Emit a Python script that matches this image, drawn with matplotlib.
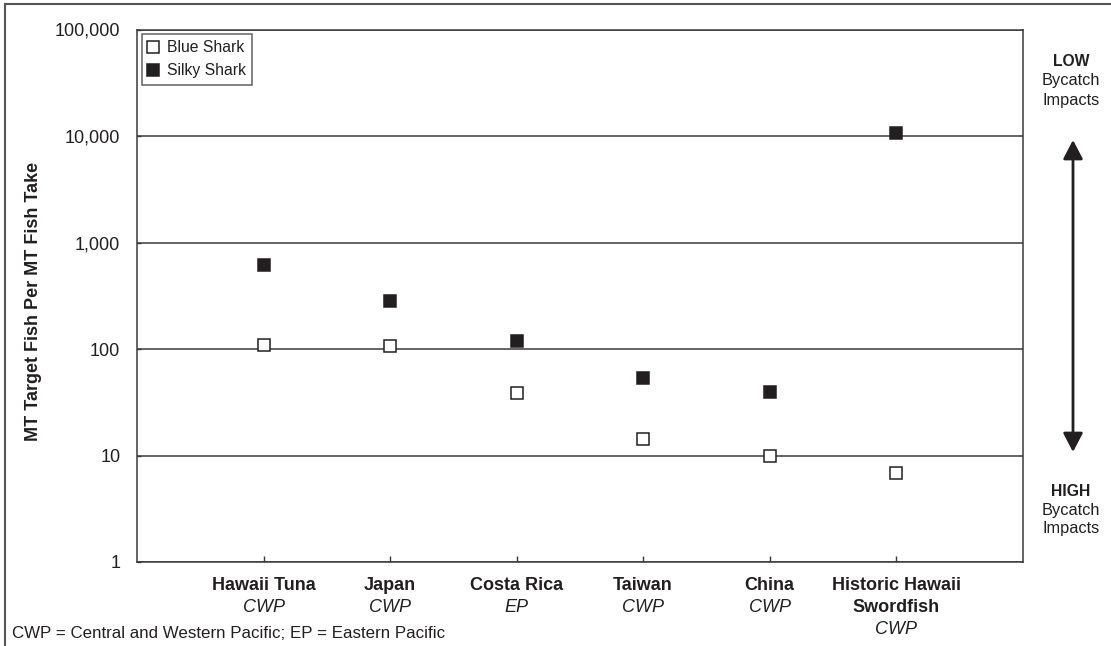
import matplotlib
matplotlib.use("Agg")
import matplotlib.pyplot as plt
from matplotlib.ticker import FixedLocator, NullLocator, FuncFormatter
from matplotlib.transforms import ScaledTranslation
from matplotlib.lines import Line2D

plt.rcParams['font.family'] = ['Liberation Sans', 'DejaVu Sans']

# fisheries and their regions
fisheries = ["Hawaii Tuna", "Japan", "Costa Rica", "Taiwan", "China", "Historic Hawaii\nSwordfish"]
regions = ["CWP", "CWP", "EP", "CWP", "CWP", "CWP"]

# MT target fish per MT shark take
blue_shark = [109, 107, 38.5, 14.3, 10, 6.8]
silky_shark = [615, 280, 120, 53, 39.5, 10700]

ink = "#231f20"
line_col = "#3a3a3a"

fig = plt.figure(figsize=(11.11, 6.46), dpi=100)
W, H = 1111, 646
ax = fig.add_axes([137 / W, 84 / H, (1022.7 - 137) / W, (562 - 29.5) / H])

x = list(range(1, len(fisheries) + 1))
ax.plot(x, blue_shark, linestyle="none", marker="s", markersize=8,
        markerfacecolor="white", markeredgecolor=ink, markeredgewidth=1.1,
        label="Blue Shark", zorder=3)
ax.plot(x, silky_shark, linestyle="none", marker="s", markersize=8,
        markerfacecolor=ink, markeredgecolor=ink, markeredgewidth=1.1,
        label="Silky Shark", zorder=3)

ax.set_yscale("log")
ax.set_ylim(1, 100000)
ax.set_xlim(0, 7)

ax.yaxis.set_major_locator(FixedLocator([1, 10, 100, 1000, 10000, 100000]))
ax.yaxis.set_minor_locator(NullLocator())
ax.yaxis.set_major_formatter(FuncFormatter(lambda v, p: f"{int(round(v)):,}"))
ax.tick_params(axis="y", direction="in", length=3, width=1, color=line_col,
               labelsize=13, pad=12, labelcolor=ink)

ax.xaxis.set_major_locator(FixedLocator(x))
ax.tick_params(axis="x", direction="in", length=4.5, width=1, color=line_col,
               labelbottom=False)

ax.grid(axis="y", color=line_col, linewidth=1.1)
ax.set_axisbelow(True)
for s in ax.spines.values():
    s.set_color(line_col)
    s.set_linewidth(1.1)

leg = ax.legend(loc="upper left", fontsize=11.3, frameon=True, fancybox=False,
                borderaxespad=0.3, handlelength=0.7, handletextpad=0.5,
                borderpad=0.4, labelspacing=0.5)
leg.get_frame().set_edgecolor(line_col)
leg.get_frame().set_linewidth(1.1)
for t in leg.get_texts():
    t.set_color(ink)

# category labels under the axis: bold name lines, then italic region
base = ax.get_xaxis_transform()
for xi, name, reg in zip(x, fisheries, regions):
    lines = name.split("\n")
    for i, ln in enumerate(lines):
        off = ScaledTranslation(0, -(23 + 22 * i) * 0.72 / 72, fig.dpi_scale_trans)
        ax.text(xi, 0, ln, transform=base + off, ha="center", va="center",
                fontsize=13, fontweight="bold", color=ink)
    off = ScaledTranslation(0, -(23 + 22 * len(lines)) * 0.72 / 72, fig.dpi_scale_trans)
    ax.text(xi, 0, reg, transform=base + off, ha="center", va="center",
            fontsize=13, fontstyle="italic", color=ink)

fig.text(34 / W, 1 - 301 / H, "MT Target Fish Per MT Fish Take", rotation=90,
         ha="center", va="center", fontsize=13, fontweight="bold", color=ink)

fig.text(11.7 / W, 1 - 633 / H, "CWP = Central and Western Pacific; EP = Eastern Pacific",
         ha="left", va="center", fontsize=12.2, color=ink)

# bycatch impact scale on the right
xr = 1071 / W
fig.text(xr, 1 - 62 / H, "LOW", ha="center", va="center", fontsize=11.3, fontweight="bold", color=ink)
fig.text(xr, 1 - 81 / H, "Bycatch", ha="center", va="center", fontsize=11.8, color=ink)
fig.text(xr, 1 - 100 / H, "Impacts", ha="center", va="center", fontsize=11.8, color=ink)
fig.text(xr, 1 - 492 / H, "HIGH", ha="center", va="center", fontsize=11.3, fontweight="bold", color=ink)
fig.text(xr, 1 - 510 / H, "Bycatch", ha="center", va="center", fontsize=11.8, color=ink)
fig.text(xr, 1 - 529 / H, "Impacts", ha="center", va="center", fontsize=11.8, color=ink)

ax.annotate("", xy=(1073, H - 140), xytext=(1073, H - 452),
            xycoords="figure pixels", textcoords="figure pixels",
            arrowprops=dict(arrowstyle="<|-|>,head_length=1.15,head_width=0.6",
                            lw=2, color=ink, shrinkA=0, shrinkB=0))

# outer frame (top and left edges)
fig.add_artist(Line2D([4.5 / W, 1], [1 - 4 / H, 1 - 4 / H], transform=fig.transFigure,
                      color="#555555", lw=1.5))
fig.add_artist(Line2D([4.5 / W, 4.5 / W], [0, 1 - 4 / H], transform=fig.transFigure,
                      color="#555555", lw=1.5))

fig.savefig("out.png", dpi=100)
